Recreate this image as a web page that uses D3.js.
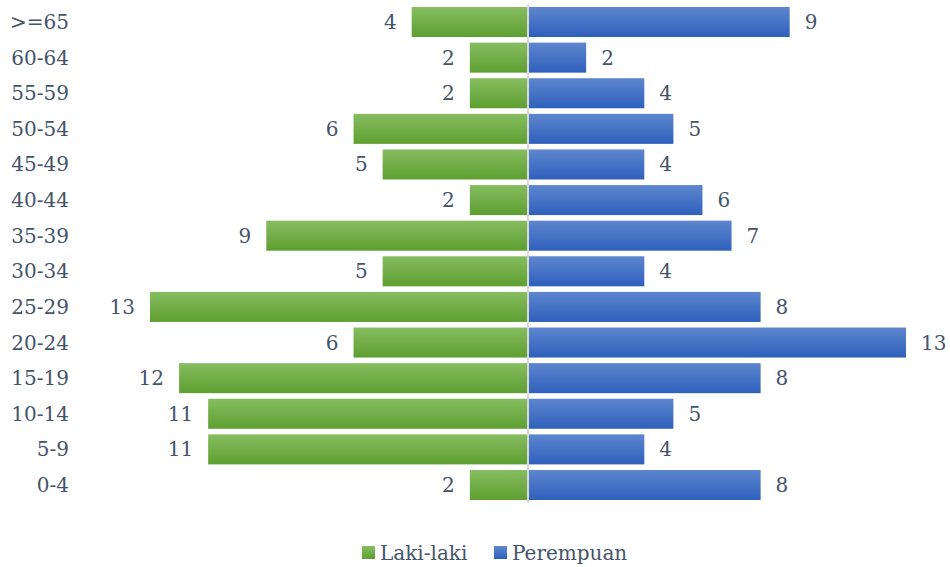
<!DOCTYPE html>
<html><head><meta charset="utf-8">
<script src="https://cdn.jsdelivr.net/npm/d3@7"></script>
<style>body{margin:0;background:#fff}svg{display:block}</style>
</head><body>
<svg id="c" width="950" height="567"></svg>
<script>
const categories = [">=65","60-64","55-59","50-54","45-49","40-44","35-39","30-34","25-29","20-24","15-19","10-14","5-9","0-4"];
const lakiLaki  = [4,2,2,6,5,2,9,5,13,6,12,11,11,2];
const perempuan = [9,2,4,5,4,6,7,4,8,13,8,5,4,8];
const seriesNames = ["Laki-laki","Perempuan"];

const svg = d3.select("#c");
const font = "'DejaVu Serif', serif";
const textColor = "#44546A";
const fs = 20;

const defs = svg.append("defs");
function grad(id, c1, c2){
  const g = defs.append("linearGradient").attr("id", id).attr("x1",0).attr("y1",0).attr("x2",0).attr("y2",1);
  g.append("stop").attr("offset","0%").attr("stop-color",c1);
  g.append("stop").attr("offset","100%").attr("stop-color",c2);
}
grad("gGreen", "#86BD60", "#5E9F31");
grad("gBlue", "#5D86CE", "#2E60BC");

const x = d3.scaleLinear().domain([-13, 13]).range([150, 906]);
const y = d3.scaleBand().domain(categories).range([4.2, 502.8]).paddingInner(0.157).paddingOuter(0.0785);

const data = categories.map((c,i)=>({c, m: lakiLaki[i], f: perempuan[i]}));

// bars
svg.append("g").selectAll("rect").data(data).join("rect")
  .attr("x", d => x(-d.m)).attr("y", d => y(d.c))
  .attr("width", d => x(0) - 1 - x(-d.m)).attr("height", y.bandwidth())
  .attr("fill", "url(#gGreen)");
svg.append("g").selectAll("rect").data(data).join("rect")
  .attr("x", x(0) + 1).attr("y", d => y(d.c))
  .attr("width", d => x(d.f) - x(0) - 1).attr("height", y.bandwidth())
  .attr("fill", "url(#gBlue)");

// center axis line
svg.append("line").attr("x1", x(0)).attr("x2", x(0)).attr("y1", 4).attr("y2", 503)
  .attr("stroke", "#D9D9D9").attr("stroke-width", 2);

// category labels
svg.append("g").selectAll("text").data(categories).join("text")
  .attr("x", 69).attr("y", d => y(d) + y.bandwidth()/2)
  .attr("dy", "0.35em").attr("text-anchor", "end")
  .attr("font-family", font).attr("font-size", fs).attr("fill", textColor)
  .text(d => d);

// value labels
svg.append("g").selectAll("text").data(data).join("text")
  .attr("x", d => x(-d.m) - 15).attr("y", d => y(d.c) + y.bandwidth()/2)
  .attr("dy", "0.35em").attr("text-anchor", "end")
  .attr("font-family", font).attr("font-size", fs).attr("fill", textColor)
  .text(d => d.m);
svg.append("g").selectAll("text").data(data).join("text")
  .attr("x", d => x(d.f) + 15).attr("y", d => y(d.c) + y.bandwidth()/2)
  .attr("dy", "0.35em").attr("text-anchor", "start")
  .attr("font-family", font).attr("font-size", fs).attr("fill", textColor)
  .text(d => d.f);

// legend
const legend = svg.append("g");
const legItems = [{n: seriesNames[0], fill: "url(#gGreen)", x: 362}, {n: seriesNames[1], fill: "url(#gBlue)", x: 494}];
legItems.forEach(it => {
  legend.append("rect").attr("x", it.x).attr("y", 546).attr("width", 13).attr("height", 13).attr("fill", it.fill);
  legend.append("text").attr("x", it.x + 18).attr("y", 553).attr("dy", "0.35em")
    .attr("font-family", font).attr("font-size", fs).attr("fill", textColor).text(it.n);
});
</script>
</body></html>
